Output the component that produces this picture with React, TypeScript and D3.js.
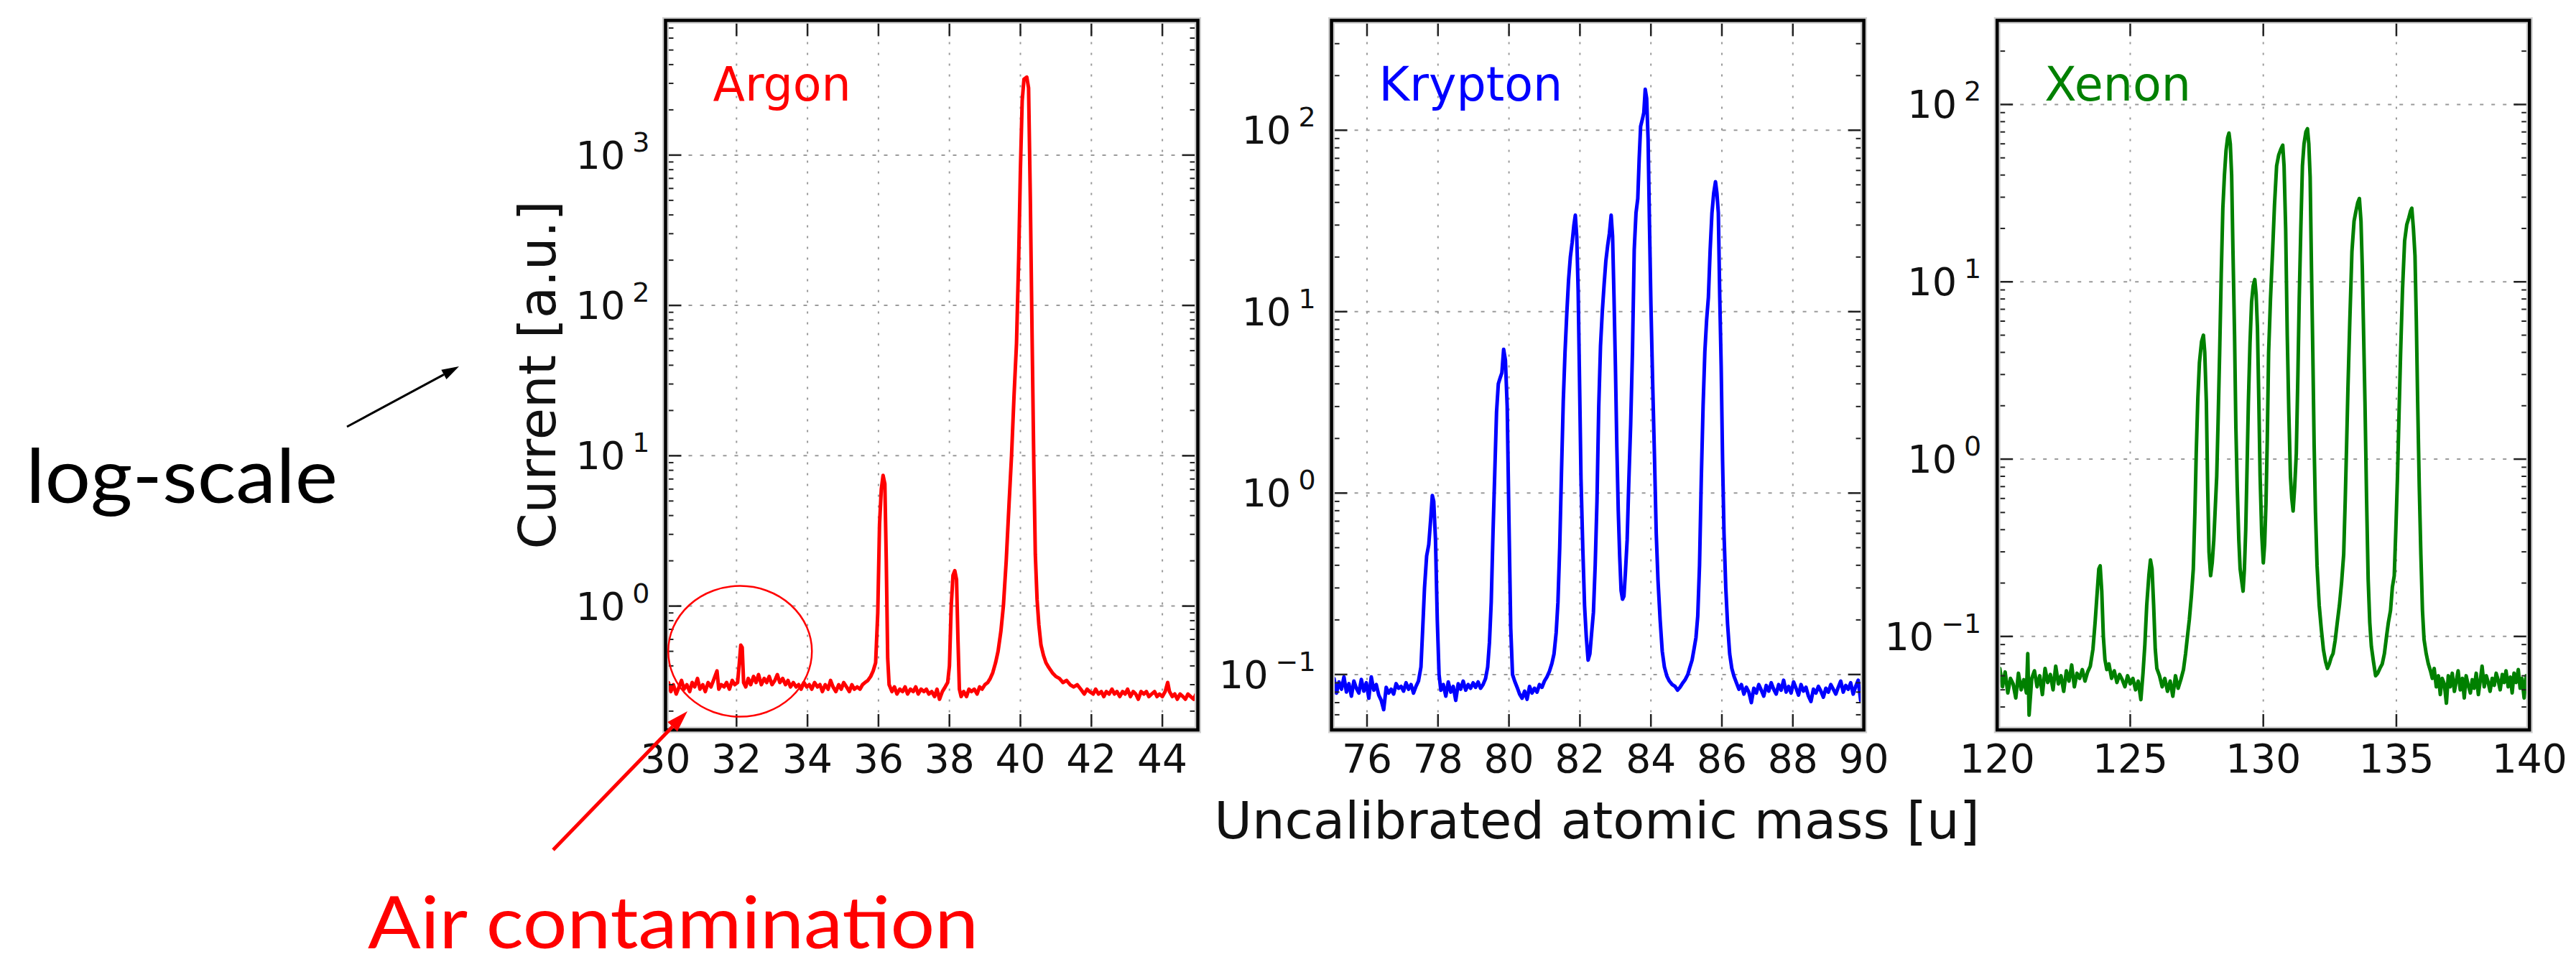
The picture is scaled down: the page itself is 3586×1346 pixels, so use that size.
import React from 'react';
import * as d3 from 'd3';

// mass [u], current [a.u.]
const argonSpectrum: [number, number][] = [
  [30.0, 0.28], [30.08, 0.31], [30.15, 0.27], [30.22, 0.3], [30.3, 0.26], [30.38, 0.29], [30.45, 0.32],
  [30.52, 0.28], [30.6, 0.3], [30.68, 0.27], [30.75, 0.31], [30.82, 0.29], [30.9, 0.33], [30.97, 0.28],
  [31.05, 0.3], [31.12, 0.27], [31.2, 0.31], [31.28, 0.29], [31.35, 0.32], [31.45, 0.37], [31.5, 0.28],
  [31.57, 0.3], [31.65, 0.29], [31.72, 0.31], [31.8, 0.28], [31.88, 0.32], [31.95, 0.3], [32.03, 0.31],
  [32.08, 0.42], [32.12, 0.55], [32.16, 0.53], [32.2, 0.31], [32.26, 0.29], [32.33, 0.33], [32.4, 0.3],
  [32.48, 0.34], [32.55, 0.31], [32.62, 0.35], [32.7, 0.3], [32.78, 0.33], [32.85, 0.31], [32.92, 0.34],
  [33.0, 0.3], [33.08, 0.32], [33.15, 0.35], [33.22, 0.31], [33.3, 0.33], [33.38, 0.3], [33.45, 0.32],
  [33.52, 0.29], [33.6, 0.31], [33.68, 0.29], [33.75, 0.3], [33.82, 0.28], [33.9, 0.31], [33.98, 0.29],
  [34.05, 0.3], [34.12, 0.28], [34.2, 0.31], [34.28, 0.29], [34.35, 0.3], [34.42, 0.27], [34.5, 0.3],
  [34.58, 0.28], [34.65, 0.32], [34.72, 0.29], [34.8, 0.27], [34.88, 0.3], [34.95, 0.28], [35.02, 0.31],
  [35.1, 0.29], [35.18, 0.27], [35.25, 0.3], [35.32, 0.28], [35.4, 0.29], [35.48, 0.28], [35.55, 0.3],
  [35.62, 0.31], [35.7, 0.32], [35.78, 0.34], [35.85, 0.37], [35.92, 0.42], [35.98, 0.9], [36.03, 3.5],
  [36.08, 6.0], [36.13, 7.4], [36.18, 6.5], [36.22, 2.0], [36.26, 0.45], [36.3, 0.3], [36.38, 0.27],
  [36.45, 0.29], [36.52, 0.26], [36.6, 0.28], [36.68, 0.27], [36.75, 0.29], [36.82, 0.26], [36.9, 0.28],
  [36.98, 0.27], [37.05, 0.29], [37.12, 0.26], [37.2, 0.28], [37.28, 0.27], [37.35, 0.28], [37.42, 0.26],
  [37.5, 0.27], [37.58, 0.25], [37.65, 0.28], [37.72, 0.24], [37.8, 0.27], [37.88, 0.29], [37.95, 0.31],
  [38.0, 0.4], [38.05, 1.0], [38.1, 1.6], [38.15, 1.72], [38.2, 1.5], [38.24, 0.6], [38.28, 0.28],
  [38.33, 0.25], [38.4, 0.27], [38.48, 0.25], [38.55, 0.28], [38.62, 0.27], [38.7, 0.28], [38.78, 0.26],
  [38.85, 0.29], [38.92, 0.28], [39.0, 0.3], [39.08, 0.31], [39.15, 0.33], [39.22, 0.36], [39.3, 0.42],
  [39.37, 0.5], [39.45, 0.68], [39.52, 1.0], [39.6, 2.0], [39.68, 4.8], [39.75, 10], [39.82, 25],
  [39.89, 56], [39.95, 200], [40.0, 800], [40.05, 2300], [40.1, 3200], [40.18, 3300], [40.23, 2800],
  [40.28, 500], [40.33, 60], [40.38, 8], [40.42, 2.2], [40.47, 1.1], [40.52, 0.75], [40.58, 0.55],
  [40.65, 0.47], [40.72, 0.42], [40.8, 0.39], [40.9, 0.36], [41.0, 0.34], [41.1, 0.33], [41.2, 0.31],
  [41.3, 0.32], [41.4, 0.3], [41.5, 0.29], [41.6, 0.3], [41.7, 0.28], [41.8, 0.26], [41.88, 0.28],
  [41.95, 0.27], [42.05, 0.26], [42.12, 0.28], [42.2, 0.26], [42.28, 0.27], [42.35, 0.25], [42.42, 0.27],
  [42.5, 0.26], [42.58, 0.28], [42.65, 0.26], [42.72, 0.27], [42.8, 0.25], [42.88, 0.27], [42.95, 0.26],
  [43.02, 0.28], [43.1, 0.25], [43.18, 0.27], [43.25, 0.26], [43.32, 0.24], [43.4, 0.27], [43.48, 0.26],
  [43.55, 0.27], [43.62, 0.25], [43.7, 0.26], [43.78, 0.27], [43.85, 0.25], [43.92, 0.26], [44.0, 0.25],
  [44.08, 0.27], [44.15, 0.31], [44.2, 0.27], [44.28, 0.25], [44.35, 0.26], [44.42, 0.24], [44.5, 0.26],
  [44.58, 0.25], [44.65, 0.24], [44.72, 0.26], [44.8, 0.25], [44.88, 0.24], [44.95, 0.26], [45.0, 0.25],
];

const kryptonSpectrum: [number, number][] = [
  [75.0, 0.085], [75.07, 0.095], [75.14, 0.079], [75.21, 0.091], [75.28, 0.083], [75.35, 0.097],
  [75.42, 0.08], [75.49, 0.089], [75.56, 0.076], [75.63, 0.092], [75.7, 0.084], [75.77, 0.079],
  [75.84, 0.094], [75.91, 0.081], [75.98, 0.09], [76.05, 0.074], [76.12, 0.097], [76.19, 0.082],
  [76.26, 0.088], [76.33, 0.077], [76.4, 0.072], [76.47, 0.064], [76.54, 0.085], [76.61, 0.079],
  [76.68, 0.083], [76.75, 0.078], [76.82, 0.089], [76.89, 0.084], [76.96, 0.086], [77.03, 0.081],
  [77.1, 0.09], [77.17, 0.083], [77.24, 0.088], [77.31, 0.079], [77.38, 0.086], [77.45, 0.092],
  [77.52, 0.11], [77.57, 0.18], [77.62, 0.3], [77.68, 0.45], [77.74, 0.52], [77.79, 0.7], [77.84, 0.97],
  [77.88, 0.9], [77.93, 0.55], [77.98, 0.2], [78.03, 0.1], [78.08, 0.082], [78.15, 0.088], [78.22, 0.076],
  [78.29, 0.091], [78.36, 0.08], [78.43, 0.086], [78.5, 0.072], [78.57, 0.089], [78.64, 0.083],
  [78.71, 0.092], [78.78, 0.082], [78.85, 0.088], [78.92, 0.084], [78.99, 0.09], [79.06, 0.085],
  [79.13, 0.091], [79.2, 0.084], [79.27, 0.088], [79.34, 0.095], [79.4, 0.11], [79.45, 0.15], [79.5, 0.25],
  [79.55, 0.6], [79.6, 1.3], [79.65, 2.8], [79.7, 4.0], [79.75, 4.3], [79.8, 4.6], [79.85, 6.2], [79.9, 5.4],
  [79.95, 3.0], [80.0, 0.7], [80.05, 0.18], [80.1, 0.1], [80.16, 0.092], [80.23, 0.085], [80.3, 0.078],
  [80.37, 0.074], [80.44, 0.081], [80.51, 0.073], [80.58, 0.086], [80.65, 0.079], [80.72, 0.084],
  [80.79, 0.08], [80.86, 0.088], [80.93, 0.085], [81.0, 0.092], [81.07, 0.097], [81.14, 0.104],
  [81.21, 0.115], [81.27, 0.13], [81.33, 0.17], [81.38, 0.25], [81.43, 0.5], [81.48, 1.3], [81.53, 3.2],
  [81.58, 6], [81.63, 9.8], [81.68, 15], [81.73, 20], [81.78, 24], [81.83, 30], [81.87, 34], [81.91, 26],
  [81.95, 13], [81.99, 4], [82.03, 1.2], [82.08, 0.5], [82.13, 0.24], [82.18, 0.16], [82.23, 0.12],
  [82.28, 0.13], [82.33, 0.17], [82.38, 0.22], [82.43, 0.4], [82.48, 0.9], [82.53, 3], [82.58, 6.5],
  [82.63, 10], [82.68, 14], [82.73, 19], [82.78, 23], [82.83, 27], [82.88, 34], [82.92, 26], [82.96, 12],
  [83.0, 5], [83.04, 1.8], [83.08, 0.8], [83.12, 0.45], [83.16, 0.29], [83.2, 0.26], [83.24, 0.27],
  [83.28, 0.36], [83.33, 0.55], [83.38, 1.2], [83.43, 2.4], [83.48, 6], [83.53, 22], [83.58, 35],
  [83.63, 42], [83.67, 70], [83.71, 105], [83.76, 115], [83.8, 125], [83.84, 168], [83.88, 150],
  [83.92, 90], [83.96, 30], [84.0, 11], [84.05, 4], [84.1, 1.6], [84.15, 0.6], [84.2, 0.33], [84.26, 0.2],
  [84.32, 0.134], [84.38, 0.11], [84.45, 0.098], [84.52, 0.092], [84.6, 0.088], [84.68, 0.086],
  [84.75, 0.082], [84.82, 0.085], [84.9, 0.09], [84.97, 0.094], [85.04, 0.1], [85.1, 0.11], [85.16, 0.12],
  [85.22, 0.14], [85.27, 0.16], [85.32, 0.21], [85.37, 0.4], [85.42, 1.2], [85.47, 3], [85.52, 6],
  [85.57, 9], [85.62, 12], [85.67, 22], [85.72, 35], [85.77, 45], [85.82, 52], [85.86, 45], [85.9, 35],
  [85.94, 12], [85.98, 5], [86.02, 1.5], [86.06, 0.6], [86.11, 0.3], [86.16, 0.19], [86.22, 0.13],
  [86.28, 0.108], [86.34, 0.098], [86.41, 0.09], [86.48, 0.083], [86.55, 0.088], [86.62, 0.078],
  [86.69, 0.085], [86.76, 0.08], [86.83, 0.07], [86.9, 0.084], [86.97, 0.079], [87.04, 0.088],
  [87.11, 0.082], [87.18, 0.076], [87.25, 0.087], [87.32, 0.081], [87.39, 0.09], [87.46, 0.083],
  [87.53, 0.078], [87.6, 0.088], [87.67, 0.082], [87.74, 0.093], [87.81, 0.08], [87.88, 0.086],
  [87.95, 0.079], [88.02, 0.091], [88.09, 0.084], [88.16, 0.077], [88.23, 0.088], [88.3, 0.081],
  [88.37, 0.085], [88.44, 0.076], [88.51, 0.071], [88.58, 0.083], [88.65, 0.079], [88.72, 0.086],
  [88.79, 0.081], [88.86, 0.075], [88.93, 0.084], [89.0, 0.08], [89.07, 0.088], [89.14, 0.083],
  [89.21, 0.078], [89.28, 0.085], [89.35, 0.092], [89.42, 0.08], [89.49, 0.087], [89.56, 0.083],
  [89.63, 0.09], [89.7, 0.078], [89.77, 0.086], [89.84, 0.093], [89.91, 0.072], [89.97, 0.085],
];

const xenonSpectrum: [number, number][] = [
  [120.0, 0.06], [120.1, 0.066], [120.2, 0.052], [120.3, 0.063], [120.4, 0.048], [120.5, 0.058],
  [120.6, 0.054], [120.7, 0.045], [120.8, 0.062], [120.9, 0.05], [121.0, 0.057], [121.1, 0.048],
  [121.15, 0.08], [121.2, 0.036], [121.3, 0.058], [121.4, 0.064], [121.5, 0.052], [121.6, 0.06],
  [121.7, 0.047], [121.8, 0.066], [121.9, 0.055], [122.0, 0.061], [122.1, 0.05], [122.2, 0.068],
  [122.3, 0.054], [122.4, 0.06], [122.5, 0.049], [122.6, 0.064], [122.7, 0.056], [122.8, 0.069],
  [122.9, 0.052], [123.0, 0.062], [123.1, 0.058], [123.2, 0.065], [123.3, 0.056], [123.4, 0.063],
  [123.5, 0.068], [123.6, 0.085], [123.68, 0.12], [123.75, 0.17], [123.82, 0.24], [123.87, 0.25],
  [123.93, 0.18], [123.99, 0.1], [124.05, 0.074], [124.12, 0.065], [124.2, 0.07], [124.3, 0.058],
  [124.4, 0.064], [124.5, 0.055], [124.6, 0.061], [124.7, 0.057], [124.8, 0.052], [124.9, 0.06],
  [125.0, 0.054], [125.1, 0.058], [125.2, 0.05], [125.3, 0.056], [125.4, 0.044], [125.48, 0.062],
  [125.55, 0.09], [125.62, 0.15], [125.7, 0.22], [125.76, 0.27], [125.82, 0.24], [125.88, 0.15],
  [125.94, 0.085], [126.0, 0.066], [126.1, 0.06], [126.2, 0.052], [126.3, 0.058], [126.4, 0.049],
  [126.5, 0.056], [126.6, 0.046], [126.7, 0.06], [126.8, 0.051], [126.9, 0.057], [127.0, 0.065],
  [127.08, 0.08], [127.15, 0.1], [127.22, 0.124], [127.3, 0.17], [127.37, 0.24], [127.43, 0.5],
  [127.48, 1.08], [127.54, 2.2], [127.6, 3.5], [127.68, 4.6], [127.75, 5.0], [127.8, 4.0], [127.86, 2.1],
  [127.91, 0.7], [127.96, 0.3], [128.02, 0.22], [128.08, 0.26], [128.14, 0.35], [128.2, 0.55],
  [128.25, 0.8], [128.3, 1.6], [128.36, 4], [128.42, 11], [128.48, 26], [128.54, 40], [128.6, 55],
  [128.66, 65], [128.71, 69], [128.76, 60], [128.81, 40], [128.86, 15], [128.92, 5], [128.97, 1.5],
  [129.02, 0.7], [129.08, 0.35], [129.13, 0.24], [129.18, 0.21], [129.24, 0.18], [129.29, 0.24],
  [129.34, 0.4], [129.39, 0.9], [129.44, 2.1], [129.5, 4.5], [129.56, 7.7], [129.62, 9.5], [129.68, 10.3],
  [129.73, 8.5], [129.78, 5.5], [129.83, 2.2], [129.88, 0.8], [129.94, 0.38], [130.0, 0.26], [130.05, 0.33],
  [130.1, 0.56], [130.15, 1.3], [130.2, 4], [130.27, 8], [130.35, 15], [130.42, 27], [130.5, 45],
  [130.58, 52], [130.66, 56], [130.73, 59], [130.78, 45], [130.84, 20], [130.9, 5], [130.96, 1.8],
  [131.02, 0.8], [131.07, 0.6], [131.12, 0.51], [131.18, 0.7], [131.24, 1.08], [131.3, 3], [131.35, 8],
  [131.41, 20], [131.47, 45], [131.53, 60], [131.6, 70], [131.66, 73], [131.71, 60], [131.76, 39],
  [131.81, 12], [131.86, 4], [131.91, 1.2], [131.96, 0.5], [132.02, 0.25], [132.1, 0.15], [132.18, 0.11],
  [132.26, 0.084], [132.34, 0.072], [132.41, 0.066], [132.48, 0.07], [132.55, 0.076], [132.62, 0.08],
  [132.7, 0.095], [132.78, 0.12], [132.86, 0.15], [132.94, 0.2], [133.02, 0.29], [133.08, 0.6],
  [133.13, 1.2], [133.18, 2.5], [133.25, 6], [133.33, 14.8], [133.41, 22], [133.48, 25], [133.55, 28],
  [133.61, 29.5], [133.67, 22], [133.72, 12], [133.77, 5], [133.82, 2.1], [133.88, 0.6], [133.94, 0.21],
  [134.0, 0.12], [134.06, 0.088], [134.14, 0.072], [134.22, 0.06], [134.3, 0.062], [134.38, 0.066],
  [134.47, 0.07], [134.55, 0.08], [134.63, 0.1], [134.7, 0.12], [134.78, 0.14], [134.85, 0.19],
  [134.92, 0.22], [134.98, 0.4], [135.04, 0.78], [135.1, 1.8], [135.16, 4.0], [135.23, 9], [135.31, 17],
  [135.39, 21], [135.47, 23], [135.53, 25], [135.58, 26], [135.64, 20], [135.7, 14], [135.75, 6],
  [135.8, 2.1], [135.86, 0.7], [135.92, 0.29], [135.98, 0.14], [136.04, 0.096], [136.12, 0.08],
  [136.2, 0.07], [136.28, 0.064], [136.35, 0.058], [136.42, 0.066], [136.5, 0.052], [136.58, 0.06],
  [136.65, 0.047], [136.72, 0.058], [136.8, 0.054], [136.88, 0.042], [136.95, 0.06], [137.02, 0.052],
  [137.1, 0.062], [137.18, 0.049], [137.25, 0.056], [137.32, 0.064], [137.4, 0.05], [137.48, 0.058],
  [137.55, 0.045], [137.62, 0.06], [137.7, 0.053], [137.78, 0.048], [137.85, 0.057], [137.92, 0.051],
  [138.0, 0.062], [138.08, 0.047], [138.15, 0.056], [138.22, 0.068], [138.3, 0.052], [138.38, 0.06],
  [138.45, 0.055], [138.52, 0.049], [138.6, 0.058], [138.68, 0.053], [138.75, 0.062], [138.82, 0.057],
  [138.9, 0.05], [138.98, 0.061], [139.05, 0.055], [139.12, 0.064], [139.2, 0.052], [139.28, 0.059],
  [139.35, 0.048], [139.42, 0.062], [139.5, 0.055], [139.58, 0.065], [139.65, 0.051], [139.72, 0.058],
  [139.8, 0.045], [139.88, 0.06], [139.95, 0.054], [140.0, 0.057],
];

const argonTicks = [30, 32, 34, 36, 38, 40, 42, 44];
const kryptonTicks = [76, 78, 80, 82, 84, 86, 88, 90];
const xenonTicks = [120, 125, 130, 135, 140];

const W = 3586;
const H = 1346;
const TOP = 28.4;
const BOTTOM = 1016;
const PW = 741;
const FONT = "'DejaVu Sans', sans-serif";

const panels = [
  { name: 'Argon', color: '#ff0000', data: argonSpectrum, xd: [30, 45], yd: [0.15, 7870], ticks: argonTicks, left: 926.5 },
  { name: 'Krypton', color: '#0000ff', data: kryptonSpectrum, xd: [75, 90], yd: [0.0495, 403], ticks: kryptonTicks, left: 1853.6 },
  { name: 'Xenon', color: '#008000', data: xenonSpectrum, xd: [120, 140], yd: [0.0297, 298], ticks: xenonTicks, left: 2780.2 },
];

function Panel({ p, i, children }: any) {
  const x = d3.scaleLinear().domain(p.xd).range([p.left, p.left + PW]);
  const y = d3.scaleLog().domain(p.yd).range([BOTTOM, TOP]);
  const line = d3.line<[number, number]>().x(d => x(d[0])).y(d => y(d[1]));
  const kMin = Math.ceil(Math.log10(p.yd[0]));
  const kMax = Math.floor(Math.log10(p.yd[1]));
  const majors = d3.range(kMin, kMax + 1);
  const minors: number[] = [];
  for (let k = kMin - 1; k <= kMax; k++) {
    for (let m = 2; m <= 9; m++) {
      const v = m * Math.pow(10, k);
      if (v > p.yd[0] && v < p.yd[1]) minors.push(v);
    }
  }
  const x0 = p.left, x1 = p.left + PW;
  return (
    <g>
      <defs>
        <clipPath id={`clip${i}`}>
          <rect x={x0} y={TOP} width={PW} height={BOTTOM - TOP} />
        </clipPath>
      </defs>
      {/* grid */}
      {majors.map(k => (
        <line key={`gy${k}`} x1={x0} x2={x1} y1={y(Math.pow(10, k))} y2={y(Math.pow(10, k))}
          stroke="#9a9a9a" strokeWidth={2} strokeDasharray="5,11" />
      ))}
      {p.ticks.map((t: number) => (
        <line key={`gx${t}`} x1={x(t)} x2={x(t)} y1={TOP} y2={BOTTOM}
          stroke="#9a9a9a" strokeWidth={2} strokeDasharray="3,12" />
      ))}
      <path d={line(p.data) || ''} fill="none" stroke={p.color} strokeWidth={5}
        strokeLinejoin="round" clipPath={`url(#clip${i})`} />
      {/* ticks */}
      {majors.map(k => {
        const yy = y(Math.pow(10, k));
        return (
          <g key={`ty${k}`} stroke="#222" strokeWidth={2.5}>
            <line x1={x0} x2={x0 + 22} y1={yy} y2={yy} />
            <line x1={x1} x2={x1 - 22} y1={yy} y2={yy} />
          </g>
        );
      })}
      {minors.map((v, j) => {
        const yy = y(v);
        return (
          <g key={`tm${j}`} stroke="#222" strokeWidth={2}>
            <line x1={x0} x2={x0 + 11} y1={yy} y2={yy} />
            <line x1={x1} x2={x1 - 11} y1={yy} y2={yy} />
          </g>
        );
      })}
      {p.ticks.map((t: number) => (
        <g key={`tx${t}`} stroke="#222" strokeWidth={2.5}>
          <line x1={x(t)} x2={x(t)} y1={BOTTOM} y2={BOTTOM - 22} />
          <line x1={x(t)} x2={x(t)} y1={TOP} y2={TOP + 22} />
        </g>
      ))}
      {/* frame */}
      <rect x={x0} y={TOP} width={PW} height={BOTTOM - TOP} fill="none" stroke="#cfcfcf" strokeWidth={9} />
      <rect x={x0} y={TOP} width={PW} height={BOTTOM - TOP} fill="none" stroke="#000" strokeWidth={4.5} />
      {/* tick labels */}
      {p.ticks.map((t: number) => (
        <text key={`lx${t}`} x={x(t)} y={1075} textAnchor="middle" fontSize={55} fontFamily={FONT} fill="#111">{t}</text>
      ))}
      {majors.map(k => (
        <text key={`ly${k}`} x={x0 - 22} y={y(Math.pow(10, k)) + 19} textAnchor="end" fontFamily={FONT} fill="#111">
          <tspan fontSize={54}>10</tspan>
          <tspan fontSize={38} dx={10} dy={-24}>{k < 0 ? `\u2212${-k}` : k}</tspan>
        </text>
      ))}
      <text x={x0 + 66} y={140} fontSize={65} fontFamily={FONT} fill={p.color}>{p.name}</text>
      {children ? children(x, y) : null}
    </g>
  );
}

function arrow(x1: number, y1: number, x2: number, y2: number, len: number, w: number) {
  const a = Math.atan2(y2 - y1, x2 - x1);
  const bx = x2 - len * Math.cos(a), by = y2 - len * Math.sin(a);
  const nx = -Math.sin(a) * w / 2, ny = Math.cos(a) * w / 2;
  return { bx, by, pts: `${x2},${y2} ${bx + nx},${by + ny} ${bx - nx},${by - ny}` };
}

export default function App() {
  const blk = arrow(483, 594, 639, 510, 24, 15);
  const red = arrow(770, 1183, 957, 990, 30, 19);
  return (
    <>
      <style>{`body{margin:0}`}</style>
      <svg width={W} height={H} style={{ display: 'block', background: '#fff' }}>
        {panels.map((p, i) => (
          <Panel key={p.name} p={p} i={i}>
            {i === 0 ? (x: any, y: any) => (
              <ellipse cx={x(32.1)} cy={y(0.5)} rx={100} ry={91} fill="none" stroke="#ff0000" strokeWidth={2.5} />
            ) : null}
          </Panel>
        ))}
        <text transform={`translate(773,522) rotate(-90)`} textAnchor="middle" fontSize={72} fontFamily={FONT} fill="#111">
          Current [a.u.]
        </text>
        <text x={2223} y={1167} textAnchor="middle" fontSize={72} fontFamily={FONT} fill="#111">
          Uncalibrated atomic mass [u]
        </text>
        {/* annotations */}
        <text x={36} y={700} fontSize={104} fontFamily="Lato, sans-serif" fill="#000" textLength={434} lengthAdjust="spacingAndGlyphs">log-scale</text>
        <line x1={483} y1={594} x2={blk.bx} y2={blk.by} stroke="#000" strokeWidth={3} />
        <polygon points={blk.pts} fill="#000" />
        <text x={512} y={1320} fontSize={100} fontFamily="Lato, sans-serif" fill="#ff0000" textLength={850} lengthAdjust="spacingAndGlyphs">Air contamination</text>
        <line x1={770} y1={1183} x2={red.bx} y2={red.by} stroke="#ff0000" strokeWidth={5} />
        <polygon points={red.pts} fill="#ff0000" />
      </svg>
    </>
  );
}
